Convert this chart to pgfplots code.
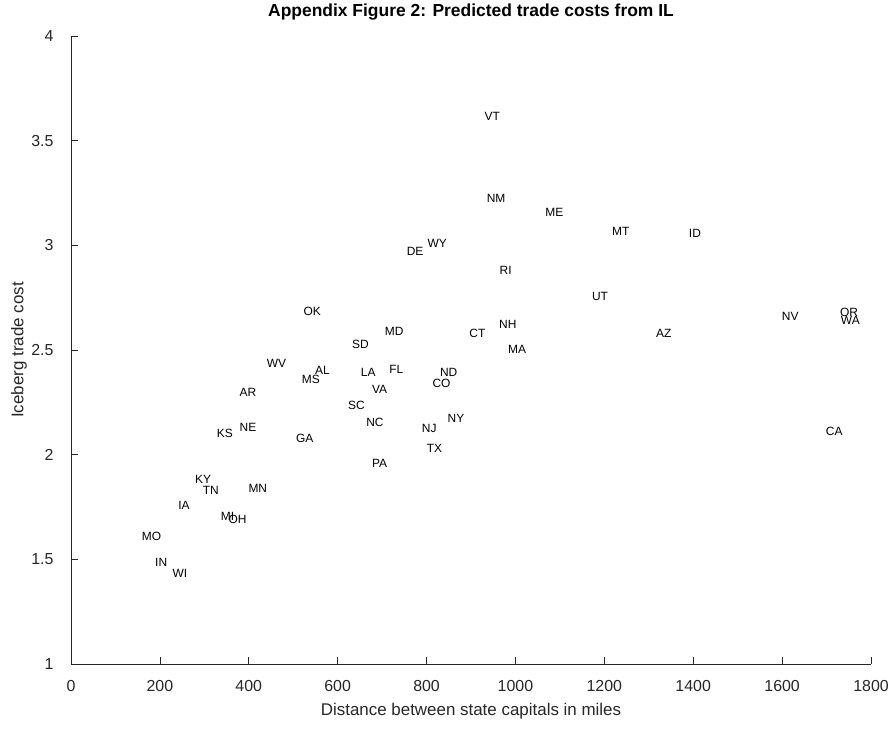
\documentclass[border=0pt]{standalone}
\usepackage{fontspec}
\setmainfont{Liberation Sans}
\usepackage{pgfplots}
\usepackage{pgfplotstable}
\pgfplotsset{compat=1.18}
\definecolor{axgray}{HTML}{262626}
\pgfplotstableread{
x y lab
279 1.882 KY
296 1.828 TN
399 1.838 MN
241 1.756 IA
337 1.704 MI
354 1.693 OH
159 1.612 MO
189 1.487 IN
228 1.433 WI
440 2.437 WV
549 2.401 AL
519 2.360 MS
652 2.394 LA
632 2.527 SD
379 2.298 AR
623 2.237 SC
379 2.129 NE
328 2.102 KS
506 2.078 GA
523 2.683 OK
706 2.588 MD
716 2.409 FL
677 2.312 VA
664 2.153 NC
677 1.956 PA
830 2.394 ND
813 2.341 CO
847 2.175 NY
789 2.123 NJ
800 2.031 TX
896 2.580 CT
963 2.623 NH
983 2.505 MA
930 3.618 VT
935 3.225 NM
1067 3.158 ME
1217 3.065 MT
755 2.973 DE
802 3.007 WY
964 2.882 RI
1390 3.058 ID
1172 2.755 UT
1316 2.580 AZ
1599 2.659 NV
1730 2.678 OR
1732 2.640 WA
1698 2.113 CA
}\statedata
\begin{document}
\begin{tikzpicture}
\useasboundingbox (-71bp,-65bp) rectangle (824bp,664bp);
\begin{axis}[
  at={(0,0)}, anchor=south west,
  scale only axis, width=800bp, height=628bp,
  xmin=0, xmax=1800, ymin=1, ymax=4,
  axis lines*=left,
  axis line style={axgray, line width=0.6bp},
  tick align=inside,
  major tick length=7bp,
  tick style={axgray, line width=0.6bp},
  xtick={0,200,...,1800},
  ytick={1,1.5,2,2.5,3,3.5,4},
  /pgf/number format/assume math mode=true,
  /pgf/number format/1000 sep={},
  ticklabel style={font=\fontsize{16}{16}\selectfont, text=axgray},
  xticklabel style={yshift=-13bp},
  yticklabel style={xshift=-14bp},
  xlabel={Distance between state capitals in miles},
  ylabel={Iceberg trade cost},
  xlabel style={at={(axis description cs:0.5,-0.0748)}, anchor=center, font=\fontsize{17}{17}\selectfont, text=axgray},
  ylabel style={at={(axis description cs:-0.065,0.5)}, anchor=center, rotate=0, font=\fontsize{17}{17}\selectfont, text=axgray},
  every axis title/.style={at={(axis description cs:0.5,1.0382)}, anchor=center, font=\fontsize{17.5}{17.5}\selectfont\bfseries},
  title={Appendix Figure 2: Predicted trade costs from IL},
  clip=false,
]
\addplot[draw=none, mark=none, only marks,
  nodes near coords,
  point meta=explicit symbolic,
  nodes near coords style={anchor=west, inner sep=0pt, font=\fontsize{12}{12}\selectfont, text=black},
] table[x=x, y=y, meta=lab] {\statedata};
\end{axis}
\end{tikzpicture}
\end{document}
